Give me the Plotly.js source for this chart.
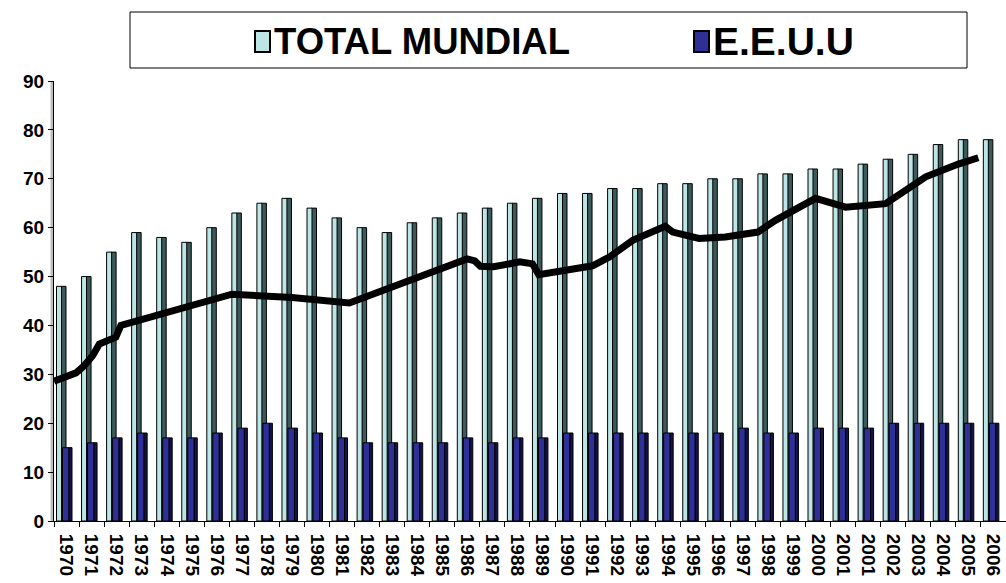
<!DOCTYPE html>
<html>
<head>
<meta charset="utf-8">
<script src="https://cdn.plot.ly/plotly-3.0.1.min.js"></script>
<style>html,body{margin:0;padding:0;background:#fff;}#chart{width:1006px;height:583px;}</style>
</head>
<body>
<div id="chart"></div>
<script>
// ---- data ----
const years = ["1970","1971","1972","1973","1974","1975","1976","1977","1978","1979",
  "1980","1981","1982","1983","1984","1985","1986","1987","1988","1989",
  "1990","1991","1992","1993","1994","1995","1996","1997","1998","1999",
  "2000","2001","2001","2002","2003","2004","2005","2006"];
const totalMundial = [48,50,55,59,58,57,60,63,65,66,64,62,60,59,61,62,63,64,65,66,
  67,67,68,68,69,69,70,70,71,71,72,72,73,74,75,77,78,78];
const eeuu = [15,16,17,18,17,17,18,19,20,19,18,17,16,16,16,16,17,16,17,17,
  18,18,18,18,18,18,18,19,18,18,19,19,19,20,20,20,20,20];
// black trend line: positions along the category axis (index units) and values
const lineIdx = [-0.5,0.38,0.71,1.04,1.31,1.97,2.17,6.6,9.0,11.29,15.99,16.3,16.52,17.05,18.1,18.6,18.85,
  21.0,21.67,22.6,23.9,24.2,25.25,26.3,27.6,28.3,29.9,31.1,32.7,34.3,35.6,36.1,36.4];
const lineVal = [28.6,30.3,31.8,33.8,36.2,37.6,40.0,46.4,45.7,44.6,53.6,53.2,52.1,52.0,53.0,52.6,50.4,
  52.2,54.0,57.4,60.3,59.1,57.8,58.1,59.1,61.5,66.0,64.2,64.9,70.4,73.0,73.6,74.3];
const seriesNames = ["TOTAL MUNDIAL","E.E.U.U"];

// ---- geometry ----
const W = 1006, H = 583;
const mL = 54, mR = 0, mT = 81, mB = 62;
const catPx = 25.05;
const plotW = W - mL - mR, plotH = H - mT - mB;
const xMax = -0.5 + plotW / catPx;
const idx = years.map((_, i) => i);
const FONT = "Liberation Sans, Arial, sans-serif";

const px2u = p => p / catPx;
const lightFace = "#bde5e5", lightSide = "#3d5a5a";
const darkFace = "#2f2f98", darkSide = "#14144a";
const edge = {color: "#000", width: 1};

const traces = [
  {type: "bar", x: idx, y: totalMundial, name: seriesNames[0] + " side", offset: px2u(7) - 0.5, width: px2u(5),
   marker: {color: lightSide, line: edge}, showlegend: false, hoverinfo: "skip"},
  {type: "bar", x: idx, y: totalMundial, name: seriesNames[0], offset: px2u(2.5) - 0.5, width: px2u(5),
   marker: {color: lightFace, line: edge}, showlegend: false},
  {type: "bar", x: idx, y: eeuu, name: seriesNames[1], offset: px2u(8.5) - 0.5, width: px2u(6.5),
   marker: {color: darkFace, line: edge}, showlegend: false},
  {type: "bar", x: idx, y: eeuu, name: seriesNames[1] + " side", offset: px2u(15) - 0.5, width: px2u(3),
   marker: {color: darkSide, line: edge}, showlegend: false, hoverinfo: "skip"},
  {type: "scatter", mode: "lines", x: lineIdx, y: lineVal, name: "tendencia",
   line: {color: "#000", width: 7}, showlegend: false}
];

// legend helpers (pixel -> paper)
const pxX = p => (p - mL) / plotW;
const pxY = p => (H - mB - p) / plotH;

const shapes = [
  {type: "rect", xref: "paper", yref: "paper", x0: pxX(130), x1: pxX(967), y0: pxY(68), y1: pxY(12),
   line: {color: "#000", width: 1}, fillcolor: "rgba(0,0,0,0)"},
  {type: "rect", xref: "paper", yref: "paper", x0: pxX(255), x1: pxX(270), y0: pxY(52), y1: pxY(31),
   line: {color: "#000", width: 2}, fillcolor: lightFace},
  {type: "rect", xref: "paper", yref: "paper", x0: pxX(694), x1: pxX(709), y0: pxY(52), y1: pxY(31),
   line: {color: "#000", width: 2}, fillcolor: darkFace},
  // grey side wall at the left of the plot
  {type: "rect", xref: "paper", yref: "paper", x0: pxX(50.5), x1: pxX(54), y0: 0, y1: 1,
   line: {width: 0}, fillcolor: "#bdbdbd", layer: "below"}
];

const annotations = [
  {xref: "paper", yref: "paper", x: pxX(272), y: pxY(41.5), xanchor: "left", yanchor: "middle",
   text: "<b>" + seriesNames[0] + "</b>", showarrow: false, font: {family: FONT, size: 36.5, color: "#000"}},
  {xref: "paper", yref: "paper", x: pxX(711), y: pxY(41.5), xanchor: "left", yanchor: "middle",
   text: "<b>" + seriesNames[1] + "</b>", showarrow: false, font: {family: FONT, size: 39, color: "#000"}}
];

const layout = {
  width: W, height: H,
  margin: {l: mL, r: mR, t: mT, b: mB, pad: 0},
  paper_bgcolor: "#fff", plot_bgcolor: "#fff",
  barmode: "overlay",
  showlegend: false,
  font: {family: FONT, color: "#000"},
  xaxis: {
    type: "linear", range: [-0.5, xMax], tickmode: "array", tickvals: idx,
    ticktext: years.map(y => "<b>" + y + "</b>"), tickangle: 90,
    tickfont: {family: FONT, size: 19, color: "#000"},
    ticks: "outside", ticklen: 8, tickcolor: "rgba(0,0,0,0)",
    ticklabeloverflow: "allow",
    showgrid: false, zeroline: false, showline: true, linecolor: "#000", linewidth: 1
  },
  xaxis2: {
    type: "linear", overlaying: "x", range: [-0.5, xMax], tickmode: "array",
    tickvals: idx.map(i => i - 0.5), showticklabels: false, ticks: "outside", ticklen: 5,
    tickcolor: "#000", showgrid: false, zeroline: false, showline: false, side: "bottom"
  },
  yaxis: {
    range: [0, 90], tickmode: "array", tickvals: [0,10,20,30,40,50,60,70,80,90],
    ticktext: [0,10,20,30,40,50,60,70,80,90].map(v => "<b>" + v + "</b>"),
    tickfont: {family: FONT, size: 19, color: "#000"},
    ticks: "outside", ticklen: 5, tickcolor: "#000",
    showgrid: false, zeroline: false, showline: true, linecolor: "#000", linewidth: 1
  },
  shapes: shapes,
  annotations: annotations
};

// dummy trace to activate xaxis2 tick marks
traces.push({type: "scatter", x: [null], y: [null], xaxis: "x2", yaxis: "y", showlegend: false, hoverinfo: "skip"});

Plotly.newPlot("chart", traces, layout, {staticPlot: true, displayModeBar: false});
</script>
</body>
</html>
